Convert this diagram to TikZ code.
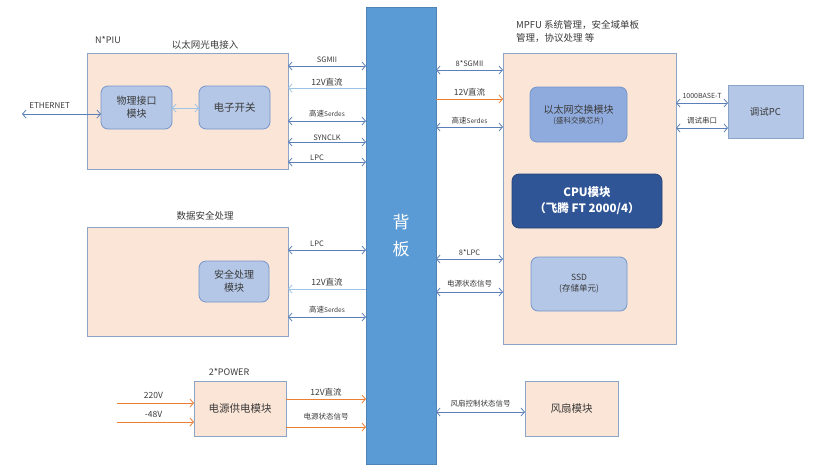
\documentclass[tikz,border=0pt]{standalone}
\usepackage{fontspec}
\setmainfont{Noto Sans CJK SC}
\usetikzlibrary{arrows.meta}
\definecolor{peach}{HTML}{FBE5D6}
\definecolor{bordc}{HTML}{8BA5C8}
\definecolor{innerf}{HTML}{B4C7E7}
\definecolor{innerd}{HTML}{7596CB}
\definecolor{ethf}{HTML}{8FAADC}
\definecolor{cpuf}{HTML}{2F5597}
\definecolor{bpf}{HTML}{5B9BD5}
\definecolor{arrc}{HTML}{5B80B8}
\definecolor{lightc}{HTML}{9DC3E6}
\definecolor{orng}{HTML}{ED7D31}
\definecolor{txt}{HTML}{3A3A3A}
\tikzset{
  box/.style={draw=bordc, fill=peach, line width=0.8pt, anchor=north west, inner sep=0pt, outer sep=0pt, text=txt, align=center},
  ibox/.style={draw=innerd, fill=innerf, line width=0.8pt, rounded corners=7pt, anchor=north west, inner sep=0pt, outer sep=0pt, text=txt, align=center},
  barr/.style={draw=arrc, line width=0.8pt, {Straight Barb[length=3.5pt,width=8pt]}-{Straight Barb[length=3.5pt,width=8pt]}},
  larr/.style={draw=lightc, line width=0.8pt, -{Straight Barb[length=3.5pt,width=8pt]}},
  oarr/.style={draw=orng, line width=0.8pt, -{Straight Barb[length=3.5pt,width=8pt]}},
  lbl/.style={font=\fontsize{7.5}{9}\selectfont, text=txt, inner sep=1.5pt},
  ttl/.style={font=\fontsize{9}{10}\selectfont, text=txt, inner sep=0pt},
}
\newcommand{\srd}{高速{\fontsize{6.5}{7}\selectfont Serdes}}
\begin{document}
\begin{tikzpicture}[x=1pt,y=-1pt]
\useasboundingbox (0,0) rectangle (829,472);
% backplane
\node[draw=bpf!85!black, fill=bpf, line width=0.5pt, anchor=north west, inner sep=0pt, outer sep=0pt, minimum width=70pt, minimum height=457pt, text=white, align=center, font=\fontsize{17}{27}\selectfont] (bp) at (366,7) {背\\板};
% PIU
\node[box, minimum width=201pt, minimum height=116pt] (piu) at (87,53) {};
\node[ttl] (piut) at (108,40) {N*PIU};
\node[ttl, font=\fontsize{9.5}{10}\selectfont] (piut2) at (205,45) {以太网光电接入};
\node[ibox, minimum width=71pt, minimum height=43pt, font=\fontsize{10}{13}\selectfont] (phy) at (101,86) {物理接口\\模块};
\node[ibox, minimum width=71pt, minimum height=43pt, font=\fontsize{10.5}{12}\selectfont] (sw) at (199,86) {电子开关};
\coordinate (ethl) at (22,114);
\draw[barr] (ethl) -- (phy.west |- ethl) node[lbl, pos=0.35, above=4pt, font=\fontsize{8}{9}\selectfont] (ethlbl) {ETHERNET};
\draw[draw=lightc, line width=0.8pt, {Straight Barb[length=3.5pt,width=8pt]}-{Straight Barb[length=3.5pt,width=8pt]}] (phy.east |- 0,108) -- (sw.west |- 0,108);
% PIU links
\draw[barr] (piu.east |- 0,66) -- (bp.west |- 0,66) node[lbl, midway, above=2pt] {SGMII};
\draw[larr] (bp.west |- 0,88) -- (piu.east |- 0,88) node[lbl, midway, above=0pt, font=\fontsize{8.5}{9}\selectfont] {12V直流};
\draw[barr] (piu.east |- 0,121) -- (bp.west |- 0,121) node[lbl, midway, above=2pt] {\srd};
\draw[barr] (piu.east |- 0,142) -- (bp.west |- 0,142) node[lbl, midway, above=0pt] {SYNCLK};
\draw[barr] (piu.east |- 0,162) -- (bp.west |- 0,162) node[lbl, midway, above=0pt, xshift=-10pt] {LPC};
% security
\node[box, minimum width=201pt, minimum height=109pt] (sec) at (87,227) {};
\node[ttl, font=\fontsize{9.5}{10}\selectfont] (sect) at (205,216) {数据安全处理};
\node[ibox, minimum width=70pt, minimum height=41pt, font=\fontsize{10}{13}\selectfont] (secm) at (199,261) {安全处理\\模块};
\draw[barr] (sec.east |- 0,250) -- (bp.west |- 0,250) node[lbl, midway, above=2pt, xshift=-10pt] {LPC};
\draw[larr] (bp.west |- 0,289) -- (sec.east |- 0,289) node[lbl, midway, above=1pt, font=\fontsize{8.5}{9}\selectfont] {12V直流};
\draw[barr] (sec.east |- 0,317) -- (bp.west |- 0,317) node[lbl, midway, above=2pt] {\srd};
% power
\node[box, minimum width=92pt, minimum height=55pt, font=\fontsize{10.5}{12}\selectfont] (pwr) at (194,381) {电源供电模块};
\node[ttl] (pwrt) at (229,372) {2*POWER};
\coordinate (in1) at (117,403);
\coordinate (in2) at (117,422);
\draw[oarr] (in1) -- (pwr.west |- in1) node[lbl, midway, above=2pt, xshift=-2pt, font=\fontsize{8.5}{9}\selectfont] {220V};
\draw[oarr] (in2) -- (pwr.west |- in2) node[lbl, midway, above=2pt, xshift=-2pt, font=\fontsize{8.5}{9}\selectfont] {-48V};
\draw[oarr] (pwr.east |- 0,399) -- (bp.west |- 0,399) node[lbl, midway, above=1pt, font=\fontsize{8.5}{9}\selectfont] {12V直流};
\draw[oarr] (pwr.east |- 0,427) -- (bp.west |- 0,427) node[lbl, midway, above=5pt] {电源状态信号};
% MPFU
\node[box, minimum width=173pt, minimum height=291pt] (mpfu) at (503,53) {};
\node[ttl, anchor=west, align=left, font=\fontsize{9.5}{13}\selectfont] (mpfut) at (516,31) {MPFU 系统管理，安全域单板\\管理，协议处理 等};
\node[ibox, fill=ethf, minimum width=97pt, minimum height=55pt, font=\fontsize{10}{12}\selectfont] (eth) at (530,87) {以太网交换模块\\[-2pt]{\fontsize{7.5}{9}\selectfont (盛科交换芯片)}};
\node[draw=cpuf!80!black, fill=cpuf, line width=0.8pt, rounded corners=7pt, anchor=north west, inner sep=0pt, outer sep=0pt, minimum width=150pt, minimum height=54pt, text=white, align=center, font=\bfseries\fontsize{11.5}{16}\selectfont] (cpu) at (512,174) {CPU模块\\（飞腾 FT 2000/4）};
\node[ibox, minimum width=96pt, minimum height=54pt, font=\fontsize{8.5}{11}\selectfont] (ssd) at (531,257) {SSD\\(存储单元)};
\draw[barr] (bp.east |- 0,70) -- (mpfu.west |- 0,70) node[lbl, midway, above=2pt] {8*SGMII};
\draw[oarr] (bp.east |- 0,99) -- (mpfu.west |- 0,99) node[lbl, midway, above=1pt, font=\fontsize{8.5}{9}\selectfont] {12V直流};
\draw[barr] (bp.east |- 0,127) -- (mpfu.west |- 0,127) node[lbl, midway, above=1pt] {\srd};
\draw[barr] (bp.east |- 0,259) -- (mpfu.west |- 0,259) node[lbl, midway, above=2pt] {8*LPC};
\draw[barr] (bp.east |- 0,292) -- (mpfu.west |- 0,292) node[lbl, midway, above=3pt] {电源状态信号};
% debug PC
\node[box, fill=innerf, minimum width=75pt, minimum height=53pt, font=\fontsize{9.5}{11}\selectfont] (pc) at (728,85) {调试PC};
\draw[barr] (mpfu.east |- 0,103) -- (pc.west |- 0,103) node[lbl, midway, above=3pt, font=\fontsize{7}{8}\selectfont] {1000BASE-T};
\draw[barr] (mpfu.east |- 0,128) -- (pc.west |- 0,128) node[lbl, midway, above=2pt] {调试串口};
% fan
\node[box, minimum width=93pt, minimum height=55pt, font=\fontsize{10.5}{12}\selectfont] (fan) at (525,381) {风扇模块};
\draw[barr] (bp.east |- 0,412) -- (fan.west |- 0,412) node[lbl, midway, above=3pt] {风扇控制状态信号};
\end{tikzpicture}
\end{document}
